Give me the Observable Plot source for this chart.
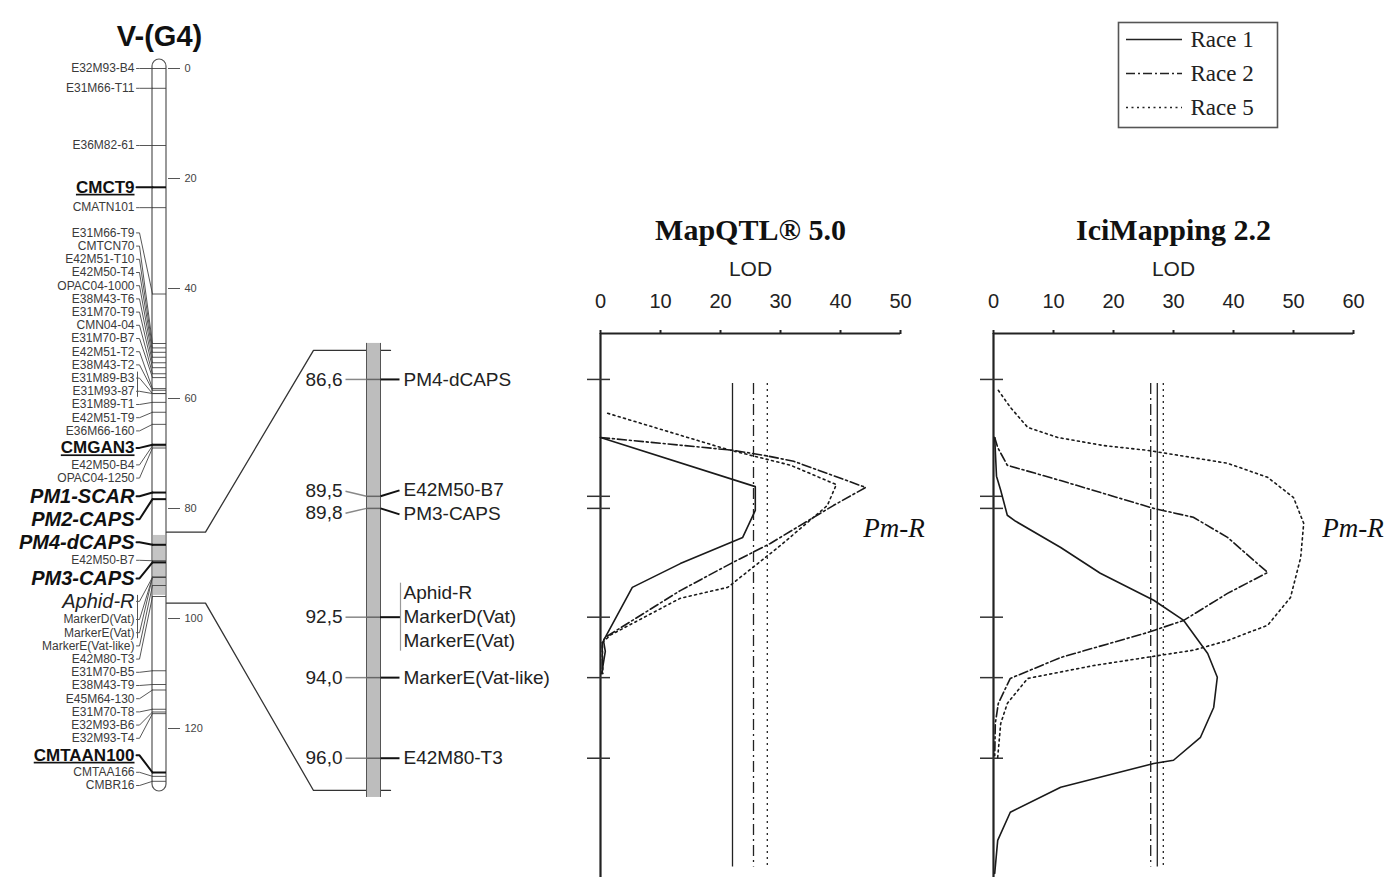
<!DOCTYPE html>
<html>
<head>
<meta charset="utf-8">
<script src="https://cdn.jsdelivr.net/npm/d3@7"></script>
<script src="https://cdn.jsdelivr.net/npm/@observablehq/plot@0.6"></script>
<style>
html,body{margin:0;padding:0;background:#fff;}
#fig{position:relative;width:1385px;height:877px;overflow:hidden;background:#fff;}
#fig svg{position:absolute;left:0;top:0;}
</style>
</head>
<body>
<div id="fig"></div>
<script>
// ================= DATA =================
const chromosomeName = "V-(G4)";
const chromosomeLengthCM = 130;
const scaleTicksCM = [0, 20, 40, 60, 80, 100, 120];
const highlightedCM = [84.9, 95.8];

const overviewMarkers = ["E32M93-B4","E31M66-T11","E36M82-61","CMCT9","CMATN101","E31M66-T9","CMTCN70","E42M51-T10","E42M50-T4","OPAC04-1000","E38M43-T6","E31M70-T9","CMN04-04","E31M70-B7","E42M51-T2","E38M43-T2","E31M89-B3","E31M93-87","E31M89-T1","E42M51-T9","E36M66-160","CMGAN3","E42M50-B4","OPAC04-1250","PM1-SCAR","PM2-CAPS","PM4-dCAPS","E42M50-B7","PM3-CAPS","Aphid-R","MarkerD(Vat)","MarkerE(Vat)","MarkerE(Vat-like)","E42M80-T3","E31M70-B5","E38M43-T9","E45M64-130","E31M70-T8","E32M93-B6","E32M93-T4","CMTAAN100","CMTAA166","CMBR16"];
const overviewCM = [0,3.6,14,21.6,25.3,41,50,50.8,51.6,52.5,53.5,54.4,55.5,56.2,58.2,58.5,59.1,59.1,60.7,62.5,64.7,68.4,68.6,69.0,77.1,78.3,86.6,89.5,89.8,92.5,92.5,92.5,94.0,96.0,109.5,112,113,116.5,117,117.3,128,128.7,129.6];
// n = plain, b = bold underlined SSR, p = bold italic PM marker, i = italic trait
const overviewKind = ["n","n","n","b","n","n","n","n","n","n","n","n","n","n","n","n","n","n","n","n","n","b","n","n","p","p","p","n","p","i","n","n","n","n","n","n","n","n","n","n","b","n","n"];
const overviewGroup = ["","","","","","","","","","","","","","","","","A","A","","","","","","","","","","","","B","B","B","","","","","","","","","","",""];

const zoomMarkers = ["PM4-dCAPS","E42M50-B7","PM3-CAPS","Aphid-R","MarkerD(Vat)","MarkerE(Vat)","MarkerE(Vat-like)","E42M80-T3"];
const zoomCM = [86.6, 89.5, 89.8, 92.5, 92.5, 92.5, 94.0, 96.0];
const zoomGroup = ["","","","B","B","B","",""];

const races = ["Race 1", "Race 2", "Race 5"];
const mapqtlTitle = "MapQTL® 5.0";
const iciTitle = "IciMapping 2.2";
const lodLabel = "LOD";
const mapqtlTicks = [0, 10, 20, 30, 40, 50];
const iciTicks = [0, 10, 20, 30, 40, 50, 60];
const mapqtlThreshold = [22.0, 25.5, 27.8];   // Race 1, 2, 5
const iciThreshold = [27.3, 26.2, 28.3];      // Race 1, 2, 5
const qtlName = "Pm-R";

// [cM, LOD]
const mapqtlRace1 = [[88.04,0],[89.26,25.8],[89.85,25.8],[90.52,23.7],[91.17,13.3],[91.76,5.3],[93.08,0.5],[93.35,0.8],[93.9,0.2]];
const mapqtlRace2 = [[88.04,0],[88.36,22.2],[88.49,27.5],[88.63,32.2],[89.28,44.2],[89.73,38.8],[90.67,28.3],[91.17,21.7],[91.84,13.3],[93.0,0.8],[93.13,0.3],[93.9,0.3]];
const mapqtlRace5 = [[87.44,1.2],[88.34,21.2],[88.73,31.7],[89.21,39.3],[89.73,37.8],[90.72,30.0],[91.76,21.2],[92.03,13.3],[92.94,1.7],[93.13,0.3],[93.9,0.4]];
const iciRace1 = [[88.04,0.2],[89.0,0.5],[89.35,1.2],[89.97,2.3],[90.12,3.7],[90.77,11.2],[91.41,17.8],[92.08,26.7],[92.58,31.7],[93.4,35.7],[93.99,37.3],[94.74,36.7],[95.48,34.5],[96.05,30.0],[96.13,26.7],[96.72,11.2],[97.34,2.8],[98.04,0.7],[98.86,0.2]];
const iciRace2 = [[88.04,0.2],[88.29,0.7],[88.73,2.3],[89.11,11.2],[89.48,19.5],[89.8,26.7],[90.02,33.3],[90.52,39.0],[91.39,45.7],[91.91,39.0],[92.58,31.7],[92.88,25.7],[93.5,11.2],[94.02,2.8],[94.64,0.8],[95.14,0.3],[96.0,0.2]];
const iciRace5 = [[86.87,0.8],[87.29,2.8],[87.79,5.7],[88.04,10.7],[88.24,18.3],[88.36,25.7],[88.68,39.0],[89.03,45.7],[89.53,50.0],[90.17,51.7],[91.02,51.2],[92.01,49.5],[92.7,45.7],[93.08,39.0],[93.32,33.3],[93.7,16.7],[94.02,5.7],[94.64,2.3],[95.14,1.2],[95.98,0.7]];

// ================= LAYOUT =================
const W = 1385, H = 877;
const serif = "'Liberation Serif','Times New Roman',serif";
const sans = "'Liberation Sans',Arial,sans-serif";
const ovScaleY = {domain: [0, 130], range: [68, 783]};
const zmScaleY = {domain: [85.46, 98.96], range: [333, 877]};
const yOv = d3.scaleLinear(ovScaleY.domain, ovScaleY.range);
const yZm = d3.scaleLinear(zmScaleY.domain, zmScaleY.range);
const OV = {labelEnd: 134, stub0: 136, stub1: 139, chromL: 152, chromR: 166, tickL: 168, tickR: 180, tickText: 184, titleX: 159, elbow: 205, bracket: 137};
const ZM = {barL: 366, barR: 380, left0: 345, leftText: 342, right1: 399, rightText: 403, bracket: 400, start: 313, end: 390, window: [85.88, 96.8], overviewWindow: [84.3, 97.2]};
const raceDash = {"Race 1": null, "Race 2": "9,3,2,3", "Race 5": "2,3.5"};
const threshDash = {"Race 1": null, "Race 2": "11,4,2,4", "Race 5": "2,4"};
const kindHeight = {n: 13.2, b: 20.8, p: 23, i: 23};

// label de-overlap (isotonic regression with minimum spacing)
function spread(desired, heights, maxPos) {
  const n = desired.length, c = [0];
  for (let i = 1; i < n; i++) c[i] = c[i - 1] + (heights[i - 1] + heights[i]) / 2;
  const pts = desired.map((d, i) => ({v: d - c[i], w: 1, n: 1}));
  if (maxPos != null) pts.push({v: maxPos - (c[n - 1] + heights[n - 1] / 2), w: 1e6, n: 1});
  const blocks = [];
  for (const p of pts) {
    blocks.push({...p});
    while (blocks.length > 1 && blocks[blocks.length - 2].v > blocks[blocks.length - 1].v) {
      const b = blocks.pop(), a = blocks.pop();
      blocks.push({v: (a.v * a.w + b.v * b.w) / (a.w + b.w), w: a.w + b.w, n: a.n + b.n});
    }
  }
  const q = [];
  for (const b of blocks) for (let k = 0; k < b.n; k++) q.push(b.v);
  return desired.map((d, i) => q[i] + c[i]);
}

const ovLabPx = spread(overviewCM.map(v => yOv(v)), overviewKind.map(k => kindHeight[k]), 791.6);
const ov = overviewMarkers.map((name, i) => ({name, cM: overviewCM[i], kind: overviewKind[i], group: overviewGroup[i], labPx: ovLabPx[i], lab: yOv.invert(ovLabPx[i])}));

const zmLabPx = spread(zoomCM.map(v => yZm(v)), zoomCM.map(() => 24));
const zm = zoomMarkers.map((name, i) => ({name, cM: zoomCM[i], group: zoomGroup[i], labPx: zmLabPx[i], lab: yZm.invert(zmLabPx[i])}));
const zmPositions = [...new Set(zoomCM)];
const zmPosLabPx = spread(zmPositions.map(v => yZm(v)), zmPositions.map(() => 22));
const zmPos = zmPositions.map((cM, i) => ({cM, text: cM.toFixed(1).replace(".", ","), lab: yZm.invert(zmPosLabPx[i])}));

function brackets(items, scale, pad) {
  const groups = d3.groups(items.filter(d => d.group), d => d.group);
  return groups.map(([g, arr]) => ({g, y1: scale.invert(d3.min(arr, d => d.labPx) - pad), y2: scale.invert(d3.max(arr, d => d.labPx) + pad)}));
}

const baseStyle = {background: "transparent", overflow: "visible", fontFamily: sans};
const base = {width: W, height: H, marginTop: 0, marginRight: 0, marginBottom: 0, marginLeft: 0, style: baseStyle};
const fig = document.getElementById("fig");

// ============ overview chromosome ============
const connectors = (arr) => arr.flatMap(m => [
  {name: m.name, x: OV.stub0, y: m.lab}, {name: m.name, x: OV.stub1, y: m.lab}, {name: m.name, x: OV.chromL, y: m.cM}]);
const thick = ov.filter(d => d.kind === "b" || d.kind === "p");
const thin = ov.filter(d => !(d.kind === "b" || d.kind === "p"));
const textKinds = {
  n: {fontSize: 12, fill: "#3a3a3a"},
  b: {fontSize: 17, fontWeight: "bold", fill: "#111"},
  p: {fontSize: 20, fontWeight: "bold", fontStyle: "italic", fill: "#111"},
  i: {fontSize: 20, fontStyle: "italic", fill: "#222"}
};
const overview = Plot.plot({
  ...base,
  x: {type: "identity", axis: null},
  y: {...ovScaleY, axis: null},
  marks: [
    Plot.text([chromosomeName], {x: OV.titleX, frameAnchor: "top", dy: 25, fontSize: 29, fontWeight: "bold", fill: "#111"}),
    Plot.rect([chromosomeName], {x1: OV.chromL, x2: OV.chromR, y1: 0, y2: chromosomeLengthCM, insetTop: -9, insetBottom: -8, rx: 7, fill: "white", stroke: "#555", strokeWidth: 1.2}),
    Plot.rect([chromosomeName], {x1: OV.chromL + 1, x2: OV.chromR - 1, y1: highlightedCM[0], y2: highlightedCM[1], fill: "#c4c4c4"}),
    Plot.ruleY(thin, {y: "cM", x1: OV.chromL, x2: OV.chromR, stroke: "#444", strokeWidth: 0.9}),
    Plot.ruleY(thick, {y: "cM", x1: OV.chromL, x2: OV.chromR, stroke: "#111", strokeWidth: 2}),
    Plot.line(connectors(thin), {x: "x", y: "y", z: "name", stroke: "#444", strokeWidth: 0.9}),
    Plot.line(connectors(thick), {x: "x", y: "y", z: "name", stroke: "#111", strokeWidth: 2}),
    Plot.ruleX(brackets(ov, yOv, 6), {x: OV.bracket, y1: "y1", y2: "y2", stroke: "#555", strokeWidth: 1}),
    ...Object.entries(textKinds).map(([k, st]) =>
      Plot.text(ov.filter(d => d.kind === k), {x: OV.labelEnd, y: "lab", text: "name", textAnchor: "end", ...st})),
    Plot.ruleY(scaleTicksCM, {x1: OV.tickL, x2: OV.tickR, stroke: "#555", strokeWidth: 1}),
    Plot.text(scaleTicksCM, {x: OV.tickText, y: d => d, text: d => String(d), textAnchor: "start", fontSize: 11, fill: "#444"})
  ]
});
d3.select(overview).selectAll("text").filter(function () {
  return ov.some(d => d.kind === "b" && d.name === this.textContent);
}).attr("text-decoration", "underline");
fig.append(overview);

// ============ zoomed segment ============
const toZm = cM => yZm.invert(yOv(cM));
const zoomLines = [0, 1].flatMap(i => [
  {k: i, x: OV.chromR, y: toZm(ZM.overviewWindow[i])},
  {k: i, x: OV.elbow, y: toZm(ZM.overviewWindow[i])},
  {k: i, x: ZM.start, y: ZM.window[i]},
  {k: i, x: ZM.end, y: ZM.window[i]}]);
const zmSingle = zm.filter(d => !d.group);
const zmGroupStub = d3.groups(zm.filter(d => d.group), d => d.group).map(([g, arr]) => ({g, cM: arr[0].cM}));
const zoomPlot = Plot.plot({
  ...base,
  x: {type: "identity", axis: null},
  y: {...zmScaleY, axis: null},
  marks: [
    Plot.line(zoomLines, {x: "x", y: "y", z: "k", stroke: "#333", strokeWidth: 1.3}),
    Plot.rect([0], {x1: ZM.barL, x2: ZM.barR, y1: ZM.window[0], y2: ZM.window[1], insetTop: -7, insetBottom: -7, fill: "#bdbdbd"}),
    Plot.ruleX([ZM.barL, ZM.barR], {y1: ZM.window[0], y2: ZM.window[1], insetTop: -7, insetBottom: -7, stroke: "#555", strokeWidth: 1}),
    Plot.link(zmPos, {x1: ZM.left0, y1: "lab", x2: ZM.barL, y2: "cM", stroke: "#888", strokeWidth: 1.5}),
    Plot.ruleY(zmPositions, {x1: ZM.barL, x2: ZM.barR, stroke: "#666", strokeWidth: 1.5}),
    Plot.link(zmSingle, {x1: ZM.barR, y1: "cM", x2: ZM.right1, y2: "lab", stroke: "#111", strokeWidth: 2}),
    Plot.ruleY(zmGroupStub, {y: "cM", x1: ZM.barR, x2: ZM.bracket, stroke: "#111", strokeWidth: 2}),
    Plot.ruleX(brackets(zm, yZm, 10), {x: ZM.bracket, y1: "y1", y2: "y2", stroke: "#999", strokeWidth: 1.2}),
    Plot.text(zmPos, {x: ZM.leftText, y: "lab", text: "text", textAnchor: "end", fontSize: 19, fill: "#222"}),
    Plot.text(zm, {x: ZM.rightText, y: "lab", text: "name", textAnchor: "start", fontSize: 19, fill: "#222"})
  ]
});
fig.append(zoomPlot);

// ============ QTL panels ============
function qtlPanel(cfg) {
  const mid = (cfg.domain[0] + cfg.domain[1]) / 2;
  return Plot.plot({
    ...base,
    marginTop: zmScaleY.range[0],
    x: {domain: cfg.domain, range: cfg.range, axis: null},
    y: {...zmScaleY, axis: null},
    marks: [
      Plot.ruleY([zmScaleY.domain[0]], {x1: cfg.domain[0], x2: cfg.domain[1], stroke: "#222", strokeWidth: 2.2}),
      Plot.ruleX([0], {y1: zmScaleY.domain[0], y2: zmScaleY.domain[1], stroke: "#222", strokeWidth: 2.2}),
      Plot.axisX({anchor: "top", ticks: cfg.ticks, tickSize: 4, tickPadding: 22, fontSize: 20, label: null, stroke: "#222", strokeWidth: 2, fill: "#222"}),
      Plot.ruleY(zmPositions, {x1: 0, x2: 0, insetLeft: -13, insetRight: -10, stroke: "#333", strokeWidth: 1.5}),
      ...races.map((r, i) => Plot.ruleX([cfg.thresholds[i]], {y1: 86.7, y2: 98.7, stroke: "#222", strokeWidth: 1.3, strokeDasharray: threshDash[r]})),
      ...races.map((r, i) => Plot.line(cfg.series[i], {x: d => d[1], y: d => d[0], stroke: "#1a1a1a", strokeWidth: 1.6, strokeDasharray: raceDash[r]})),
      Plot.text([cfg.title], {x: mid, frameAnchor: "top", dy: -115, fontSize: 30, fontWeight: "bold", fontFamily: serif, fill: "#111"}),
      Plot.text([lodLabel], {x: mid, frameAnchor: "top", dy: -72, fontSize: 21, fill: "#222"}),
      Plot.text([qtlName], {x: cfg.qtlLOD, y: 90.3, textAnchor: "start", fontSize: 27, fontStyle: "italic", fontFamily: serif, fill: "#111"})
    ]
  });
}
fig.append(qtlPanel({domain: [0, 50], range: [600, 900], ticks: mapqtlTicks, thresholds: mapqtlThreshold, series: [mapqtlRace1, mapqtlRace2, mapqtlRace5], title: mapqtlTitle, qtlLOD: 43.8}));
fig.append(qtlPanel({domain: [0, 60], range: [993, 1353], ticks: iciTicks, thresholds: iciThreshold, series: [iciRace1, iciRace2, iciRace5], title: iciTitle, qtlLOD: 54.8}));

// ============ legend ============
const legend = Plot.plot({
  width: 159, height: 105, margin: 0,
  style: {...baseStyle, position: "absolute", left: "1118px", top: "22px"},
  x: {type: "identity", axis: null},
  y: {type: "point", domain: races, range: [17, 85], padding: 0, axis: null},
  marks: [
    Plot.frame({stroke: "#555", strokeWidth: 1.6}),
    ...races.map(r => Plot.ruleY([r], {x1: 8, x2: 64, stroke: "#222", strokeWidth: 1.5, strokeDasharray: raceDash[r]})),
    Plot.text(races, {x: 72, y: d => d, textAnchor: "start", fontSize: 23, fontFamily: serif, fill: "#222"})
  ]
});
fig.append(legend);
</script>
</body>
</html>
